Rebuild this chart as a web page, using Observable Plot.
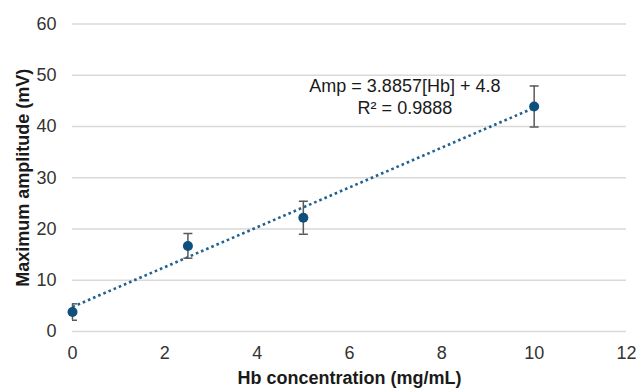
<!DOCTYPE html>
<html>
<head>
<meta charset="utf-8">
<script src="https://cdn.jsdelivr.net/npm/d3@7"></script>
<script src="https://cdn.jsdelivr.net/npm/@observablehq/plot@0.6"></script>
<style>
  html, body { margin: 0; padding: 0; background: #fff; }
  #chart svg { display: block; }
</style>
</head>
<body>
<div id="chart"></div>
<script>
// Data
const concentrations = [0, 2.5, 5, 10];          // Hb concentration (mg/mL)
const amplitudes = [3.8, 16.7, 22.2, 43.9];      // Maximum amplitude (mV)
const errors = [1.6, 2.4, 3.2, 4.0];             // error bar half-widths (mV)
const fitSlope = 3.8857;
const fitIntercept = 4.8;
const fitRange = [0, 10];
const xTicks = [0, 2, 4, 6, 8, 10, 12];
const yTicks = [0, 10, 20, 30, 40, 50, 60];
const annotationText = "Amp = 3.8857[Hb] + 4.8\nR² = 0.9888";

const points = concentrations.map((x, i) => ({x, y: amplitudes[i], e: errors[i]}));
const fitLine = fitRange.map(x => ({x, y: fitSlope * x + fitIntercept}));

const capSymbol = {
  draw(context, size) {
    const r = Math.sqrt(size / Math.PI);
    context.moveTo(-r, 0);
    context.lineTo(r, 0);
  }
};

const font = "'Liberation Sans', Arial, sans-serif";

const chart = Plot.plot({
  width: 638,
  height: 389,
  marginLeft: 72,
  marginRight: 12,
  marginTop: 23.5,
  marginBottom: 58,
  style: {fontFamily: font, fontSize: "18px", color: "#3a3a3a", background: "#fff"},
  x: {domain: [0, 12], ticks: xTicks},
  y: {domain: [0, 60], ticks: yTicks},
  marks: [
    Plot.ruleY(yTicks, {stroke: "#d9d9d9", strokeWidth: 1.5, strokeOpacity: 1}),
    Plot.axisX({ticks: xTicks, tickSize: 0, tickPadding: 15, fontSize: 18, fill: "#333",
      label: "Hb concentration (mg/mL)", labelAnchor: "center", labelArrow: "none", labelOffset: 52}),
    Plot.axisY({ticks: yTicks, tickSize: 0, tickPadding: 16, fontSize: 18, fill: "#333",
      label: "Maximum amplitude (mV)", labelAnchor: "center", labelArrow: "none", labelOffset: 56}),
    Plot.line(fitLine, {x: "x", y: "y", stroke: "#21618f", strokeWidth: 2.6, strokeDasharray: "2.6 3", strokeLinecap: "butt"}),
    Plot.ruleX(points, {x: "x", y1: d => d.y - d.e, y2: d => d.y + d.e, stroke: "#595959", strokeWidth: 1.5}),
    Plot.dot(points, {x: "x", y: d => d.y - d.e, symbol: capSymbol, r: 4.5, stroke: "#595959", strokeWidth: 1.5, fill: "none", clip: "frame"}),
    Plot.dot(points, {x: "x", y: d => d.y + d.e, symbol: capSymbol, r: 4.5, stroke: "#595959", strokeWidth: 1.5, fill: "none", clip: "frame"}),
    Plot.dot(points, {x: "x", y: "y", r: 5, fill: "#0d4f7d", stroke: "none"}),
    Plot.text([annotationText], {x: 7.2, y: 45.9, text: d => d, textAnchor: "middle", lineAnchor: "middle", lineHeight: 1.18, fontSize: 18, fill: "#1a1a1a"})
  ]
});

const svg = d3.select(chart);
svg.selectAll("[aria-label='x-axis label'] text, [aria-label='y-axis label'] text")
  .attr("font-weight", "bold").attr("fill", "#1a1a1a");
document.getElementById("chart").appendChild(chart);
</script>
</body>
</html>
